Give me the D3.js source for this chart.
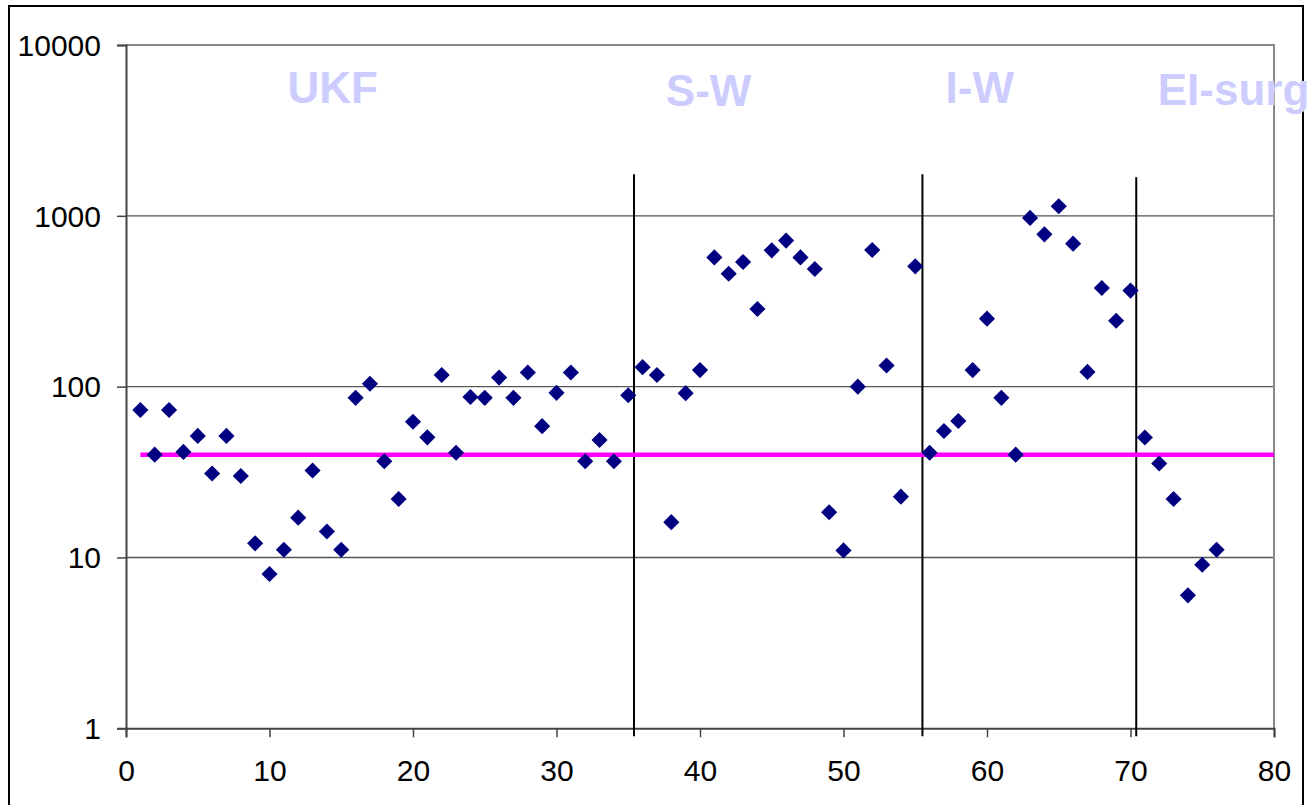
<!DOCTYPE html>
<html>
<head>
<meta charset="utf-8">
<script src="https://cdn.jsdelivr.net/npm/d3@7"></script>
<style>
  html, body { margin: 0; padding: 0; background: #fff; overflow: hidden; }
  svg { display: block; }
  text { font-family: "Liberation Sans", Arial, sans-serif; }
</style>
</head>
<body>
<svg id="chart" width="1310" height="805"></svg>
<script>
// Case index (x) and measured value (log y)
const caseIndex = d3.range(1, 77);
const values = [
  73, 40, 73, 41.5, 51.5, 31, 51.5, 30, 12.1, 8,
  11.1, 17.1, 32.3, 14.2, 11.1, 86, 104, 36.6, 22, 62.3,
  50.5, 117, 41, 87, 86, 113, 86, 121, 58.7, 92,
  121, 36.6, 48.7, 36.6, 89, 130, 117, 16.1, 91.6, 125,
  571, 458, 537, 285, 628, 716, 571, 488, 18.4, 11,
  100, 631, 133, 22.7, 506, 41, 55, 62.9, 125, 250,
  86, 40, 972, 779, 1137, 687, 122, 378, 243, 365,
  50.4, 35.5, 22, 6, 9.06, 11.1
];

// Reference level line
const refLevel = 40;
const refRange = [1, 80];

// Group separators: x position and upper value
const dividerX = [35.4, 55.5, 70.4];
const dividerTop = [1750, 1750, 1680];

// Group names and where they are centred (x units)
const groupNames = ["UKF", "S-W", "I-W", "EI-surg"];
const groupAt = [14.4, 40.6, 59.5, 71.9];

// Axis ticks
const xTicks = [0, 10, 20, 30, 40, 50, 60, 70, 80];
const yTicks = [1, 10, 100, 1000, 10000];

const svg = d3.select("#chart");

const plotLeft = 126, plotRight = 1274, plotTop = 45, plotBottom = 728.3;
const x = d3.scaleLinear().domain([0, 80]).range([plotLeft, plotRight]);
const y = d3.scaleLog().domain([1, 10000]).range([plotBottom, plotTop]);

// Outer frame
svg.append("rect")
  .attr("x", 9).attr("y", 6)
  .attr("width", 1294).attr("height", 840)
  .attr("fill", "#fff").attr("stroke", "#000").attr("stroke-width", 2);

// Horizontal gridlines
svg.append("g").selectAll("line")
  .data(yTicks.filter(d => d > 1 && d < 10000))
  .join("line")
  .attr("x1", plotLeft).attr("x2", plotRight)
  .attr("y1", d => y(d)).attr("y2", d => y(d))
  .attr("stroke", "#555").attr("stroke-width", 1.4);

// Plot-area top and right edges
svg.append("path")
  .attr("d", `M${plotLeft},${y(10000)}H${plotRight}V${plotBottom}`)
  .attr("fill", "none").attr("stroke", "#888").attr("stroke-width", 2);

// Y axis
const yAxis = svg.append("g")
  .attr("transform", `translate(${plotLeft},0)`)
  .call(d3.axisLeft(y).tickValues(yTicks).tickFormat(d3.format("d")).tickSize(9).tickPadding(0));
yAxis.select(".domain").attr("stroke", "#444").attr("stroke-width", 2);
yAxis.selectAll(".tick line").attr("stroke", "#444").attr("stroke-width", 1.5);
yAxis.selectAll(".tick text")
  .attr("x", -25).attr("dy", "0.34em")
  .attr("font-size", 30).attr("fill", "#000")
  .style("font-family", '"Liberation Sans", Arial, sans-serif');

// X axis
const xAxis = svg.append("g")
  .attr("transform", `translate(0,${plotBottom})`)
  .call(d3.axisBottom(x).tickValues(xTicks).tickSize(9).tickPadding(0));
xAxis.select(".domain").attr("stroke", "#444").attr("stroke-width", 2);
xAxis.selectAll(".tick line").attr("stroke", "#444").attr("stroke-width", 1.5);
xAxis.selectAll(".tick text")
  .attr("y", 53).attr("dy", 0)
  .attr("font-size", 30).attr("fill", "#000")
  .style("font-family", '"Liberation Sans", Arial, sans-serif');

// Group separators
svg.append("g").selectAll("line")
  .data(dividerX)
  .join("line")
  .attr("x1", d => x(d)).attr("x2", d => x(d))
  .attr("y1", (d, i) => y(dividerTop[i])).attr("y2", plotBottom + 8)
  .attr("stroke", "#000").attr("stroke-width", 2);

// Reference level
svg.append("line")
  .attr("x1", x(refRange[0])).attr("x2", x(refRange[1]))
  .attr("y1", y(refLevel)).attr("y2", y(refLevel))
  .attr("stroke", "#ff00ff").attr("stroke-width", 4.5);

// Data points as diamonds
const diamond = d3.symbol().type(d3.symbolSquare).size(130);
svg.append("g").selectAll("path")
  .data(caseIndex.map((c, i) => [c, values[i]]))
  .join("path")
  .attr("d", diamond)
  .attr("transform", d => `translate(${x(d[0])},${y(d[1])}) rotate(45)`)
  .attr("fill", "#000080");

// Group names
const baselines = [103, 106, 103, 105];
svg.append("g").selectAll("text")
  .data(groupNames)
  .join("text")
  .attr("x", (d, i) => x(groupAt[i]))
  .attr("y", (d, i) => baselines[i])
  .attr("text-anchor", (d, i) => i === 3 ? "start" : "middle")
  .attr("font-size", 44).attr("font-weight", "bold")
  .attr("fill", "#ccccff")
  .text(d => d);
</script>
</body>
</html>
